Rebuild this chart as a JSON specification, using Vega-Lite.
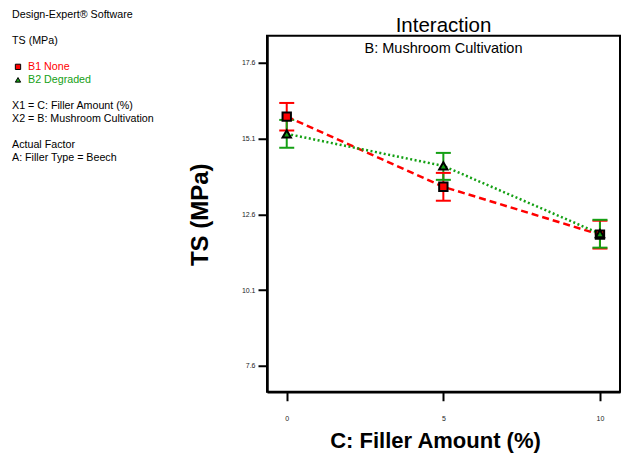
{
  "$schema": "https://vega.github.io/schema/vega-lite/v6.json",
  "autosize": {"type": "pad"},
  "padding": {"left": 12, "top": 8.75, "right": 18, "bottom": 5},
  "background": "white",
  "config": {
    "font": "Liberation Sans",
    "axis": {"grid": false}
  },
  "datasets": {
    "notes": [
      {"line": 0, "text": "Design-Expert® Software"},
      {"line": 2, "text": "TS (MPa)"},
      {"line": 7, "text": "X1 = C: Filler Amount (%)"},
      {"line": 8, "text": "X2 = B: Mushroom Cultivation"},
      {"line": 10, "text": "Actual Factor"},
      {"line": 11, "text": "A: Filler Type = Beech"}
    ],
    "legend": [
      {"line": 4, "series": "B1 None"},
      {"line": 5, "series": "B2 Degraded"}
    ],
    "ts": [
      {"series": "B1 None", "amount": 0, "mean": 15.83, "lo": 15.37, "hi": 16.28},
      {"series": "B1 None", "amount": 5, "mean": 13.51, "lo": 13.05, "hi": 13.97},
      {"series": "B1 None", "amount": 10, "mean": 11.93, "lo": 11.47, "hi": 12.39},
      {"series": "B2 Degraded", "amount": 0, "mean": 15.26, "lo": 14.80, "hi": 15.72},
      {"series": "B2 Degraded", "amount": 5, "mean": 14.20, "lo": 13.74, "hi": 14.63},
      {"series": "B2 Degraded", "amount": 10, "mean": 11.96, "lo": 11.50, "hi": 12.42}
    ]
  },
  "bounds": "flush",
  "spacing": 105,
  "resolve": {"scale": {"x": "independent", "y": "independent", "color": "independent", "shape": "independent"}},
  "hconcat": [
    {
      "width": 150,
      "height": 130,
      "view": {"stroke": null},
      "layer": [
        {
          "data": {"name": "notes"},
          "mark": {"type": "text", "align": "left", "baseline": "middle", "fontSize": 10.7, "color": "black"},
          "encoding": {
            "x": {"datum": 0, "type": "quantitative", "scale": {"domain": [0, 150], "nice": false, "zero": false}, "axis": null},
            "y": {"field": "line", "type": "quantitative", "scale": {"domain": [1.608, 11.608], "reverse": true, "nice": false, "zero": false}, "axis": null},
            "text": {"field": "text"}
          }
        },
        {
          "data": {"name": "legend"},
          "mark": {"type": "text", "align": "left", "baseline": "middle", "fontSize": 10.7},
          "encoding": {
            "x": {"datum": 16, "type": "quantitative"},
            "y": {"field": "line", "type": "quantitative"},
            "text": {"field": "series"},
            "color": {"field": "series", "type": "nominal", "scale": {"domain": ["B1 None", "B2 Degraded"], "range": ["#ff0000", "#14a014"]}, "legend": null}
          }
        },
        {
          "data": {"name": "legend"},
          "mark": {"type": "point", "filled": true, "stroke": "black", "strokeWidth": 1, "size": 28, "opacity": 1},
          "encoding": {
            "x": {"datum": 6, "type": "quantitative"},
            "y": {"field": "line", "type": "quantitative"},
            "color": {"field": "series", "type": "nominal", "scale": {"domain": ["B1 None", "B2 Degraded"], "range": ["#ff0000", "#14a014"]}, "legend": null},
            "shape": {"field": "series", "type": "nominal", "scale": {"domain": ["B1 None", "B2 Degraded"], "range": ["square", "triangle-up"]}, "legend": null}
          }
        }
      ]
    },
    {
      "width": 353,
      "height": 356,
      "view": {"stroke": "black", "strokeWidth": 2},
      "title": {
        "text": "Interaction",
        "subtitle": "B: Mushroom Cultivation",
        "font": "Liberation Sans",
        "subtitleFont": "Liberation Sans",
        "fontSize": 20.5,
        "subtitleFontSize": 14.5,
        "fontWeight": "normal",
        "color": "black",
        "subtitleColor": "black",
        "anchor": "middle",
        "frame": "group",
        "offset": -20,
        "subtitlePadding": 5.5
      },
      "data": {"name": "ts"},
      "encoding": {
        "x": {
          "field": "amount", "type": "quantitative",
          "scale": {"domain": [-0.63, 10.64], "nice": false, "zero": false},
          "axis": {
            "values": [0, 5, 10],
            "title": "C: Filler Amount (%)",
            "titleFontSize": 22, "titleFontWeight": "bold", "titleColor": "black",
            "titleX": 168, "titleY": 56, "titleAlign": "center", "titleBaseline": "alphabetic",
            "labelFontSize": 7, "labelColor": "#222222", "labelPadding": 14,
            "tickSize": 9, "tickWidth": 2, "tickColor": "black",
            "domainColor": "black", "domainWidth": 2.5
          }
        },
        "color": {"field": "series", "type": "nominal", "scale": {"domain": ["B1 None", "B2 Degraded"], "range": ["#ff0000", "#14a014"]}, "legend": null}
      },
      "layer": [
        {
          "mark": {"type": "rule", "strokeWidth": 2, "opacity": 1},
          "encoding": {
            "y": {"field": "lo", "type": "quantitative",
              "scale": {"domain": [6.74, 18.5], "nice": false, "zero": false},
              "axis": {
                "values": [7.6, 10.1, 12.6, 15.1, 17.6], "format": ".1f",
                "title": "TS (MPa)",
                "titleFontSize": 24, "titleFontWeight": "bold", "titleColor": "black",
                "titleX": -60, "titleY": 178.5, "titleAngle": 270, "titleAlign": "center", "titleBaseline": "alphabetic",
                "labelFontSize": 7, "labelColor": "#222222", "labelPadding": 3,
                "tickSize": 9, "tickWidth": 2, "tickColor": "black",
                "domainColor": "black", "domainWidth": 2.5
              }
            },
            "y2": {"field": "hi"}
          }
        },
        {
          "mark": {"type": "tick", "orient": "horizontal", "size": 15, "thickness": 2, "opacity": 1},
          "encoding": {"y": {"field": "lo", "type": "quantitative"}}
        },
        {
          "mark": {"type": "tick", "orient": "horizontal", "size": 15, "thickness": 2, "opacity": 1},
          "encoding": {"y": {"field": "hi", "type": "quantitative"}}
        },
        {
          "mark": {"type": "line", "strokeWidth": 2.5},
          "encoding": {
            "y": {"field": "mean", "type": "quantitative"},
            "strokeDash": {"field": "series", "type": "nominal", "scale": {"domain": ["B1 None", "B2 Degraded"], "range": [[7, 4], [2, 2.5]]}, "legend": null}
          }
        },
        {
          "mark": {"type": "point", "filled": true, "stroke": "black", "strokeWidth": 2, "size": 70, "opacity": 1},
          "encoding": {
            "y": {"field": "mean", "type": "quantitative"},
            "shape": {"field": "series", "type": "nominal", "scale": {"domain": ["B1 None", "B2 Degraded"], "range": ["square", "triangle-up"]}, "legend": null}
          }
        }
      ]
    }
  ]
}
